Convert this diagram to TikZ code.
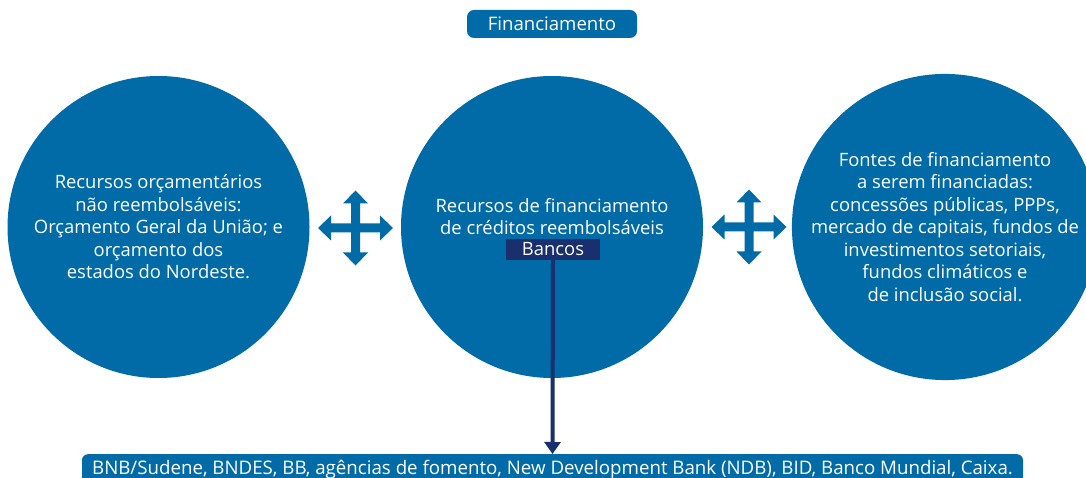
\documentclass[tikz,border=0pt]{standalone}
\usepackage{fontspec}
\setmainfont{Open Sans}
\definecolor{circblue}{RGB}{0,107,166}
\definecolor{navy}{RGB}{26,48,110}
\usetikzlibrary{arrows.meta}
\tikzset{
  bigcircle/.style={circle, fill=circblue, minimum size=302pt, inner sep=0pt,
    text=white, align=center, font=\fontsize{18.4}{22.5}\selectfont},
  tagbox/.style={fill=circblue, rounded corners=7pt, text=white,
    font=\fontsize{18.6}{20}\selectfont, minimum width=170pt, minimum height=28pt, inner sep=0pt},
  bankbox/.style={fill=navy, text=white, font=\fontsize{18.4}{20}\selectfont,
    minimum width=94pt, minimum height=21pt, inner sep=0pt},
  basebox/.style={fill=circblue, rounded corners=6pt, text=white,
    font=\fontsize{18.7}{20}\selectfont, minimum width=941pt, minimum height=30pt, inner sep=0pt},
  link/.style={draw=navy, line width=4pt, -{Triangle[length=12pt,width=16pt]}},
  quadarrow/.pic={
    \fill[circblue] (37.5,0) -- (24.5,-12.5) -- (24.5,-4.5) -- (4.5,-4.5) -- (4.5,-24.5)
      -- (12.5,-24.5) -- (0,-37.5) -- (-12.5,-24.5) -- (-4.5,-24.5) -- (-4.5,-4.5)
      -- (-24.5,-4.5) -- (-24.5,-12.5) -- (-37.5,0) -- (-24.5,12.5) -- (-24.5,4.5)
      -- (-4.5,4.5) -- (-4.5,24.5) -- (-12.5,24.5) -- (0,37.5) -- (12.5,24.5)
      -- (4.5,24.5) -- (4.5,4.5) -- (24.5,4.5) -- (24.5,12.5) -- cycle;
  }
}
\begin{document}
\begin{tikzpicture}[x=1pt,y=-1pt]
\useasboundingbox (0,0) rectangle (1086,478);
\clip (0,0) rectangle (1086,478);
\fill[white] (0,0) rectangle (1086,478);
\node[tagbox] (fin) at (552,24) {Financiamento};
\node[bigcircle] (left) at (158.5,227) {Recursos orçamentários\\ não reembolsáveis:\\ Orçamento Geral da União; e\\ orçamento dos\\ estados do Nordeste.};
\node[bigcircle] (mid) at (552,227) {};
\node[text=white, align=center, font=\fontsize{18.4}{22.5}\selectfont] (midtext) at (552,216.5) {Recursos de financiamento\\ de créditos reembolsáveis};
\node[bankbox] (bancos) at (553,249.5) {Bancos};
\node[bigcircle] (right) at (945,227) {Fontes de financiamento\\ a serem financiadas:\\ concessões públicas, PPPs,\\ mercado de capitais, fundos de\\ investimentos setoriais,\\ fundos climáticos e\\ de inclusão social.};
\pic at (355.5,228) {quadarrow};
\pic at (749,227) {quadarrow};
\node[basebox, anchor=north] (base) at (552.5,454) {BNB/Sudene, BNDES, BB, agências de fomento, New Development Bank (NDB), BID, Banco Mundial, Caixa.};
\draw[link] (bancos.south) -- (base.north);
\end{tikzpicture}
\end{document}
